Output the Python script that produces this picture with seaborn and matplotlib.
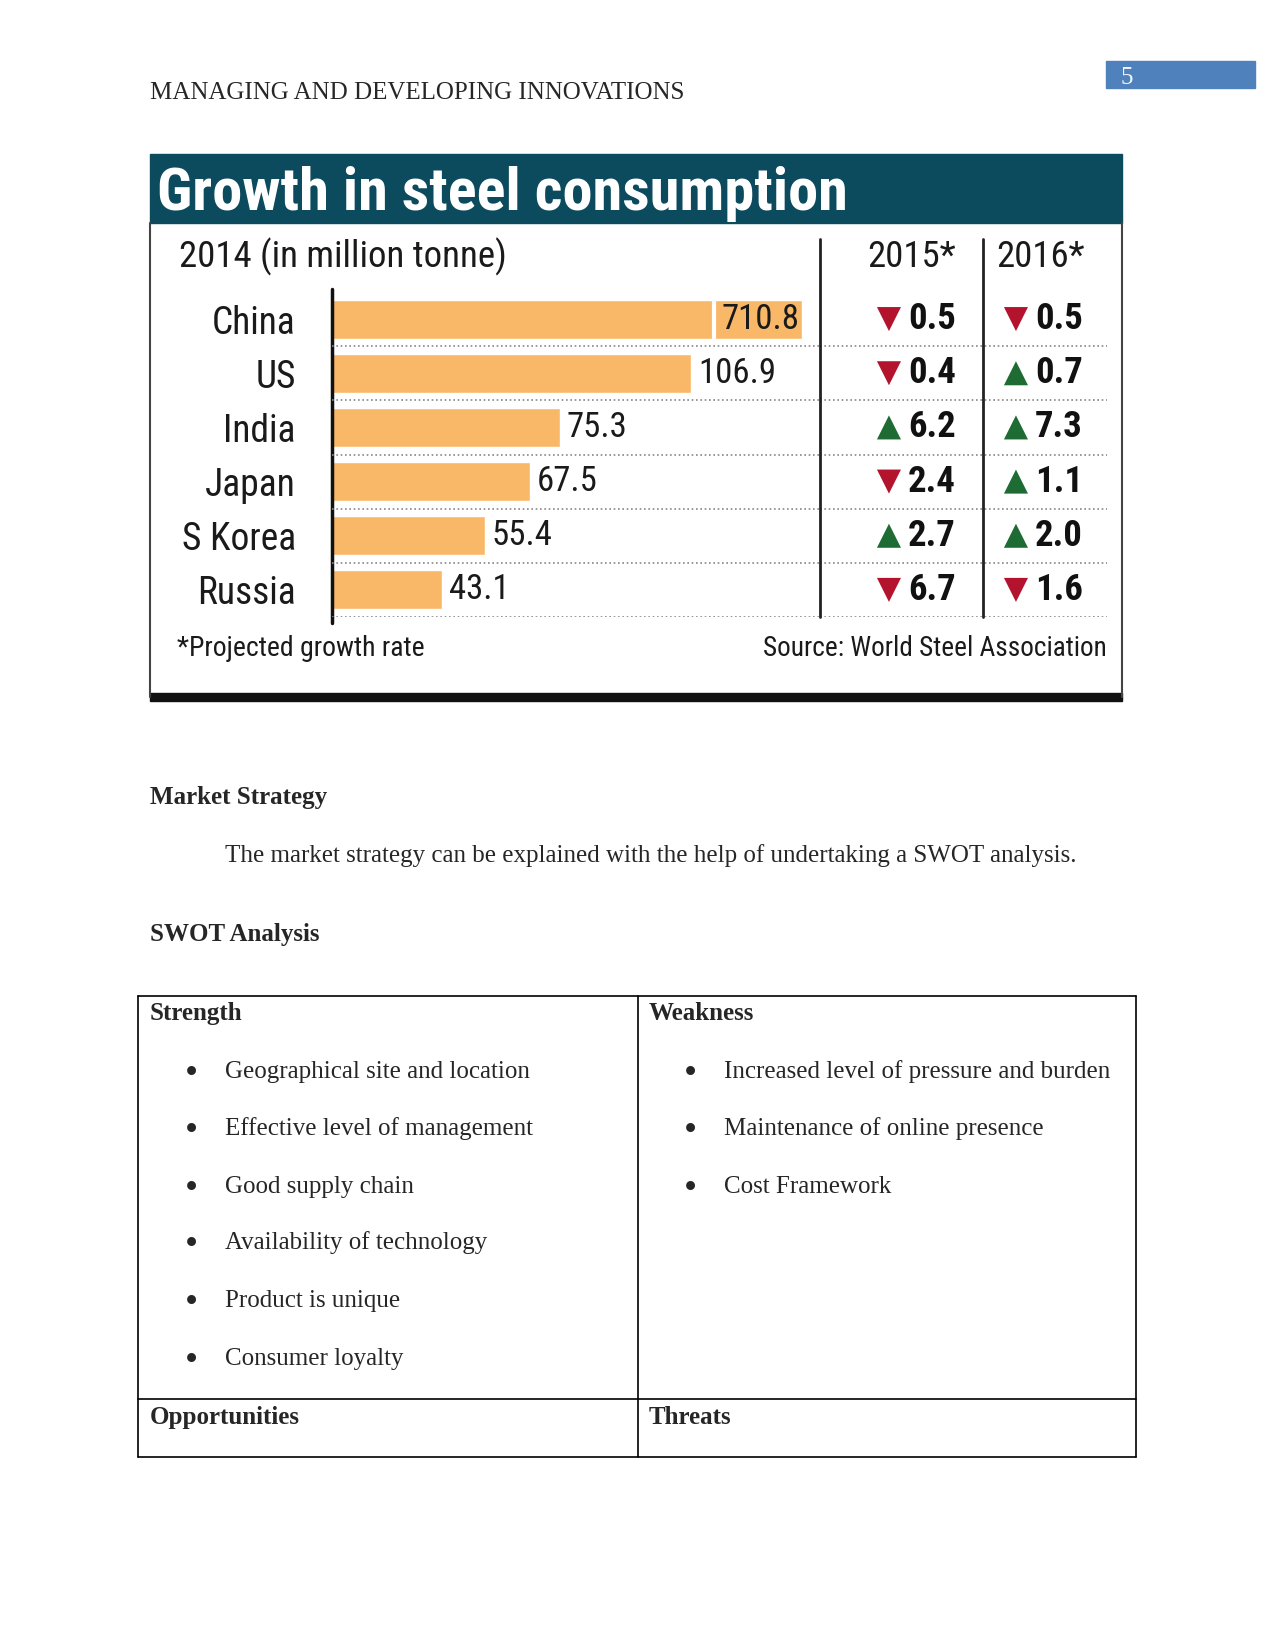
import numpy as np
import pandas as pd
import matplotlib
matplotlib.use("Agg")
import matplotlib.pyplot as plt
import seaborn as sns
from matplotlib import font_manager as fm
from matplotlib.patches import Rectangle
from matplotlib.lines import Line2D

# chart data
countries = ["China", "US", "India", "Japan", "S Korea", "Russia"]
consumption_2014 = [710.8, 106.9, 75.3, 67.5, 55.4, 43.1]
growth_2015 = [-0.5, -0.4, 6.2, -2.4, 2.7, -6.7]
growth_2016 = [-0.5, 0.7, 7.3, 1.1, 2.0, -1.6]
growth_years = ["2015*", "2016*"]

# page text
header = "MANAGING AND DEVELOPING INNOVATIONS"
page_no = "5"
strengths = ["Geographical site and location", "Effective level of management",
             "Good supply chain", "Availability of technology",
             "Product is unique", "Consumer loyalty"]
weaknesses = ["Increased level of pressure and burden",
              "Maintenance of online presence", "Cost Framework"]

sns.set_style("white")
serif = ["Liberation Serif", "DejaVu Serif"]
plt.rcParams["font.family"] = serif

available = {f.name for f in fm.fontManager.ttflist}
cond_pref = ["Roboto Condensed", "Liberation Sans Narrow", "Archivo Narrow"]
cond = next((n for n in cond_pref if n in available), None)
if cond is None:
    cond_fam = ["DejaVu Sans"]
    stretch = "condensed"
else:
    cond_fam = [cond, "DejaVu Sans"]
    stretch = "normal"
cf = dict(family=cond_fam, stretch=stretch)

W, H = 1275, 1650


def fx(x):
    return x / W


def fy(y):
    return 1 - y / H


fig = plt.figure(figsize=(W / 100, H / 100), dpi=100)

# page header
fig.text(fx(150), fy(99), header, size=18, va="baseline")
fig.patches.append(Rectangle((fx(1106), fy(88)), (1255 - 1106) / W, 27 / H,
                             transform=fig.transFigure, color="#4F81BD"))
fig.text(fx(1127), fy(84), page_no, size=18, color="#f2f5fb", ha="center", va="baseline")

# chart frame
navy = "#0C4A5E"
ink = "#1a1a1a"
fig.patches.append(Rectangle((fx(150), fy(223)), 972 / W, 69 / H,
                             transform=fig.transFigure, color=navy))
fig.patches.append(Rectangle((fx(150), fy(701)), 972 / W, 8 / H,
                             transform=fig.transFigure, color="#111111"))
for x in (150, 1122):
    fig.lines.append(Line2D([fx(x), fx(x)], [fy(223), fy(697)], transform=fig.transFigure,
                            color="#444444", lw=1.5))
fig.text(fx(157), fy(210), "Growth in steel consumption", color="white", weight="bold",
         size=43.5, va="baseline", **cf)
fig.text(fx(179), fy(257), "2014 (in million tonne)", size=26.5, va="center", color=ink, **cf)
fig.text(fx(912), fy(257), growth_years[0], size=26.5, va="center", ha="center", color=ink, **cf)
fig.text(fx(1040), fy(257), growth_years[1], size=26.5, va="center", ha="center", color=ink, **cf)
fig.text(fx(177), fy(648), "*Projected growth rate", size=20, va="center", color=ink, **cf)
fig.text(fx(1107), fy(648), "Source: World Steel Association", size=19.6, va="center", ha="right",
         color=ink, **cf)

# bar panel: power scale, China bar broken
p = 1.3
fwd = lambda x: np.sign(x) * np.abs(x) ** p
inv = lambda x: np.sign(x) * np.abs(x) ** (1 / p)
x_max, cap, gap_x = 135.35, 131.5, 112.1

ax_bar = fig.add_axes([fx(332), fy(617), 488 / W, 325 / H])
ax_bar.set_facecolor("none")
shown = np.minimum(consumption_2014, cap)
sns.barplot(x=shown, y=countries, orient="h", color="#F9B868", saturation=1,
            width=0.72, ax=ax_bar)
ax_bar.set_xscale("function", functions=(fwd, inv))
ax_bar.set_xlim(0, x_max)
ax_bar.set_ylim(5.5, -0.5)
ax_bar.set_xticks([])
ax_bar.set_xlabel("")
ax_bar.set_ylabel("")
for s in ax_bar.spines.values():
    s.set_visible(False)
ax_bar.tick_params(axis="y", length=0, pad=26, labelsize=27)
for lab in ax_bar.get_yticklabels():
    lab.set_fontfamily(cond_fam)
    lab.set_fontstretch(stretch)
    lab.set_color(ink)
ax_bar.axvline(0, ymin=-0.018, ymax=1.01, clip_on=False, color="#111111", lw=2.5)
for i, v in enumerate(consumption_2014):
    if v > cap:
        ax_bar.plot([gap_x, gap_x], [i - 0.36, i + 0.36], color="white", lw=3)
        ax_bar.annotate(f"{v:.1f}", (cap, i), xytext=(-3, 0), textcoords="offset pixels",
                        ha="right", va="center", size=25, color=ink, **cf)
    else:
        ax_bar.annotate(f"{v:.1f}", (v, i), xytext=(7, 0), textcoords="offset pixels",
                        ha="left", va="center", size=25, color=ink, **cf)
for r in range(len(countries)):
    ax_bar.axhline(r + 0.5, color="#888888", lw=1.2, ls=(0, (1, 1.6)))

# growth panel
growth = pd.DataFrame({
    "row": list(range(len(countries))) * 2,
    "col": [0] * len(countries) + [1] * len(countries),
    "value": growth_2015 + growth_2016,
})
growth["dir"] = np.where(growth["value"] >= 0, "up", "down")
ax_g = fig.add_axes([fx(820), fy(617), 302 / W, 325 / H])
sns.scatterplot(data=growth, x="col", y="row", hue="dir", style="dir",
                markers={"up": "^", "down": "v"},
                palette={"up": "#1E6B34", "down": "#B4132E"},
                s=300, linewidth=0, legend=False, ax=ax_g)
ax_g.set_xlim(-0.543, 1.835)
ax_g.set_ylim(5.5, -0.5)
ax_g.axis("off")
for _, r in growth.iterrows():
    ax_g.annotate(f"{abs(r['value']):.1f}", (r["col"], r["row"]), xytext=(19, 0),
                  textcoords="offset pixels", ha="left", va="center", weight="bold",
                  size=26.5, color="#111111", **cf)
for r in range(len(countries)):
    ax_g.axhline(r + 0.5, xmax=0.95, color="#888888", lw=1.2, ls=(0, (1, 1.6)))
for x in (-0.543, 0.74):
    ax_g.axvline(x, ymin=0, ymax=1.163, clip_on=False, color="#222222", lw=2)

# document text
fig.text(fx(150), fy(804), "Market Strategy", size=18, weight="bold", va="baseline")
fig.text(fx(225), fy(862), "The market strategy can be explained with the help of undertaking a SWOT analysis.",
         size=18, va="baseline")
fig.text(fx(150), fy(941), "SWOT Analysis", size=18, weight="bold", va="baseline")

# SWOT table
tl = dict(transform=fig.transFigure, color="black", lw=1.2)
for xs, ys in [((138, 1136), (996, 996)), ((138, 1136), (1457, 1457)),
               ((138, 1136), (1399, 1399)), ((138, 138), (996, 1457)),
               ((1136, 1136), (996, 1457)), ((637.5, 637.5), (996, 1457))]:
    fig.lines.append(Line2D([fx(xs[0]), fx(xs[1])], [fy(ys[0]), fy(ys[1])], **tl))
fig.text(fx(150), fy(1020), "Strength", size=18, weight="bold", va="baseline")
fig.text(fx(649), fy(1020), "Weakness", size=18, weight="bold", va="baseline")
fig.text(fx(150), fy(1424), "Opportunities", size=18, weight="bold", va="baseline")
fig.text(fx(649), fy(1424), "Threats", size=18, weight="bold", va="baseline")
bullet_y = [1078, 1135, 1193, 1249, 1307, 1365]
for yb, item in zip(bullet_y, strengths):
    fig.text(fx(191), fy(yb + 6), "\u2022", size=27, ha="center", va="baseline")
    fig.text(fx(225), fy(yb), item, size=18, va="baseline")
for yb, item in zip(bullet_y, weaknesses):
    fig.text(fx(690), fy(yb + 6), "\u2022", size=27, ha="center", va="baseline")
    fig.text(fx(724), fy(yb), item, size=18, va="baseline")

fig.savefig("out.png", dpi=100)
